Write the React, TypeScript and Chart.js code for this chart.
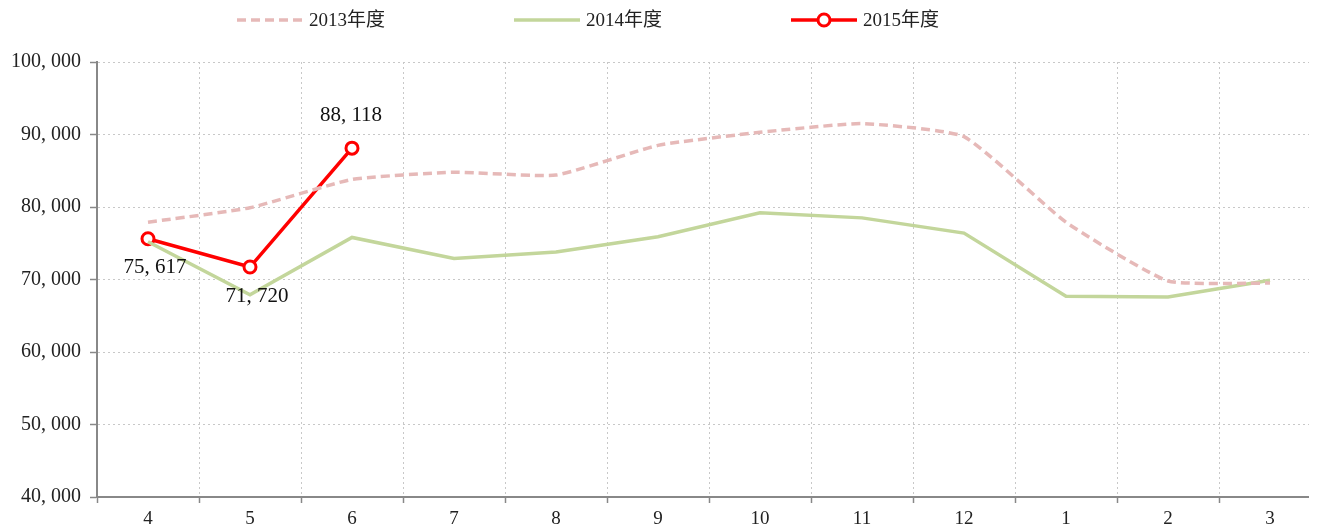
import React, { useEffect, useRef } from "react";
import { Chart, registerables } from "chart.js";

Chart.register(...registerables);

const categories = ["4", "5", "6", "7", "8", "9", "10", "11", "12", "1", "2", "3"];
const fy2013 = [77900, 79900, 83800, 84800, 84400, 88500, 90300, 91500, 89700, 77900, 69800, 69500];
const fy2014 = [75200, 67900, 75800, 72900, 73800, 75900, 79200, 78500, 76400, 67700, 67600, 69900];
const fy2015: (number | null)[] = [75617, 71720, 88118, null, null, null, null, null, null, null, null, null];
const seriesNames = ["2013年度", "2014年度", "2015年度"];
const labelSides = ["below", "below", "above"];
const yTicks = { min: 40000, max: 100000, step: 10000 };

const fmt = (v: number) => v.toLocaleString("en-US").replace(/,/g, ", ");

const NUM_FONT = '"Liberation Serif", "DejaVu Serif", serif';

export default function App() {
  const ref = useRef<HTMLCanvasElement | null>(null);

  useEffect(() => {
    document.documentElement.style.overflow = "hidden";
    const canvas = ref.current;
    if (!canvas) return;

    const legendPlugin = {
      id: "customLegend",
      afterDraw(chart: any) {
        const ctx = chart.ctx;
        ctx.save();
        const y = 12;
        const x = 229;
        const stride = 277;
        chart.data.datasets.forEach((ds: any, i: number) => {
          const x0 = x + i * stride;
          const lineLen = 66;
          ctx.beginPath();
          ctx.lineWidth = ds.borderWidth;
          ctx.strokeStyle = ds.borderColor;
          ctx.setLineDash(ds.borderDash || []);
          ctx.moveTo(x0, y);
          ctx.lineTo(x0 + lineLen, y);
          ctx.stroke();
          ctx.setLineDash([]);
          if (ds.pointRadius > 0) {
            ctx.beginPath();
            ctx.arc(x0 + lineLen / 2, y, ds.pointRadius, 0, Math.PI * 2);
            ctx.fillStyle = "#fff";
            ctx.fill();
            ctx.lineWidth = ds.pointBorderWidth;
            ctx.strokeStyle = ds.borderColor;
            ctx.stroke();
          }
          ctx.fillStyle = "#222";
          ctx.font = '19px "Liberation Serif", "Noto Sans CJK SC", serif';
          ctx.textBaseline = "middle";
          ctx.textAlign = "left";
          ctx.fillText(seriesNames[i], x0 + lineLen + 6, y + 1);
        });
        ctx.restore();
      },
    };

    const labelPlugin = {
      id: "valueLabels",
      afterDatasetsDraw(chart: any) {
        const ctx = chart.ctx;
        const meta = chart.getDatasetMeta(2);
        ctx.save();
        ctx.font = `21px ${NUM_FONT}`;
        ctx.fillStyle = "#111";
        ctx.textAlign = "center";
        ctx.textBaseline = "middle";
        meta.data.forEach((pt: any, i: number) => {
          const v = fy2015[i];
          if (v == null) return;
          const side = labelSides[i];
          const dy = side === "above" ? -33 : 29;
          const dx = side === "above" ? -1 : 7;
          ctx.fillText(fmt(v), pt.x + dx, pt.y + dy);
        });
        ctx.restore();
      },
    };

    const chart = new Chart(canvas, {
      type: "line",
      data: {
        labels: categories,
        datasets: [
          {
            label: seriesNames[0],
            data: fy2013,
            borderColor: "#e6b9b8",
            borderWidth: 3.5,
            borderDash: [9, 5],
            tension: 0.15,
            pointRadius: 0,
            fill: false,
          },
          {
            label: seriesNames[1],
            data: fy2014,
            borderColor: "#c3d69b",
            borderWidth: 3.5,
            tension: 0,
            pointRadius: 0,
            fill: false,
          },
          {
            label: seriesNames[2],
            data: fy2015,
            borderColor: "#ff0000",
            borderWidth: 3.5,
            tension: 0,
            pointRadius: 6,
            pointBorderWidth: 3,
            pointBackgroundColor: "#ffffff",
            pointBorderColor: "#ff0000",
            fill: false,
            spanGaps: false,
          },
        ],
      },
      options: {
        animation: false,
        responsive: true,
        maintainAspectRatio: false,
        layout: { padding: { top: 54, right: 8, left: 0, bottom: 0 } },
        plugins: {
          legend: { display: false },
          title: { display: false },
          tooltip: { enabled: false },
        },
        scales: {
          x: {
            offset: true,
            grid: {
              offset: true,
              color: "#c8c8c8",
              lineWidth: 1,
              tickColor: "#888888",
              tickLength: 6,
              tickWidth: 1.5,
              tickBorderDash: [],
            },
            border: { color: "#888888", width: 2, dash: [2, 3] },
            ticks: {
              color: "#222",
              font: { family: NUM_FONT, size: 19 },
              padding: 5,
              maxRotation: 0,
            },
            afterFit(scale: any) {
              scale.height = 32;
            },
          },
          y: {
            min: yTicks.min,
            max: yTicks.max,
            grid: {
              color: "#c8c8c8",
              lineWidth: 1,
              tickColor: "#888888",
              tickLength: 7,
              tickWidth: 1.5,
              tickBorderDash: [],
            },
            border: { color: "#888888", width: 2, dash: [2, 3] },
            ticks: {
              stepSize: yTicks.step,
              color: "#222",
              font: { family: NUM_FONT, size: 20 },
              padding: 9,
              callback: (v: any) => fmt(Number(v)),
            },
            afterFit(scale: any) {
              scale.width = 89;
            },
          },
        },
      },
      plugins: [legendPlugin, labelPlugin],
    });

    return () => chart.destroy();
  }, []);

  return (
    <div style={{ width: 1322, height: 521, position: "relative" }}>
      <canvas ref={ref} />
    </div>
  );
}
